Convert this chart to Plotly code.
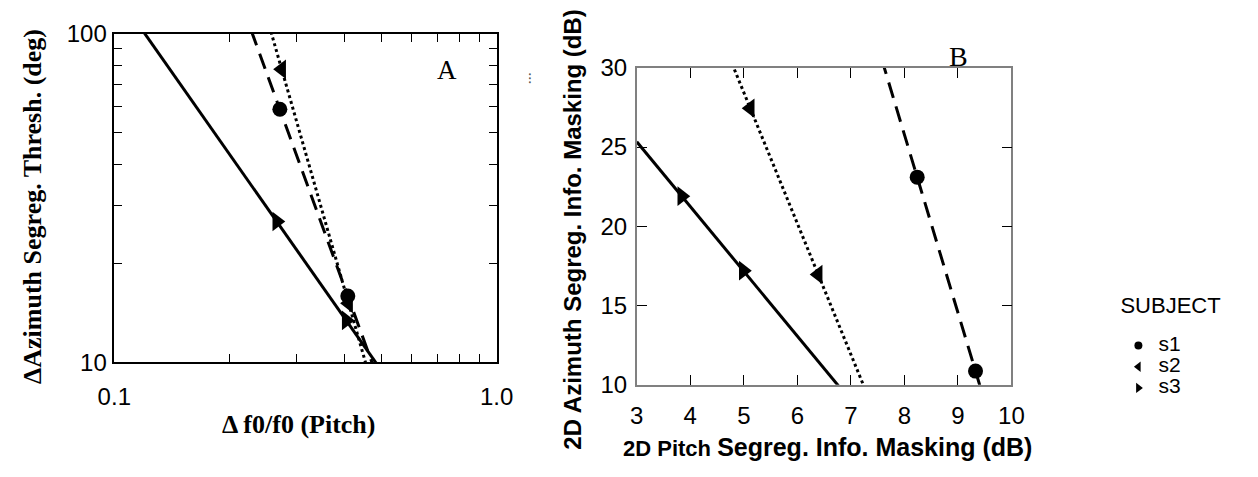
import numpy as np
import plotly.graph_objects as go

# ---------------- data ----------------
subjects = ["s1", "s2", "s3"]

# Panel A: pitch threshold (delta f0/f0) vs azimuth segregation threshold (deg)
a_s1_x = [0.271, 0.408]
a_s1_y = [58.9, 15.9]
a_s2_x = [0.274, 0.410]
a_s2_y = [78.0, 15.1]
a_s3_x = [0.266, 0.404]
a_s3_y = [26.8, 13.4]

# Panel B: 2D pitch segregation info. masking vs 2D azimuth segregation info. masking (dB)
b_s1_x = [8.24, 9.33]
b_s1_y = [23.1, 10.86]
b_s2_x = [5.12, 6.39]
b_s2_y = [27.45, 16.96]
b_s3_x = [3.84, 4.99]
b_s3_y = [21.9, 17.2]

a_xtick_vals = [0.1, 1.0]
a_xtick_text = ["0.1", "1.0"]
a_xminor = [0.2, 0.3, 0.4, 0.5, 0.6, 0.7, 0.8, 0.9]
a_ytick_vals = [10, 100]
a_yminor = [20, 30, 40, 50, 60, 70, 80, 90]

b_xtick_vals = [3, 4, 5, 6, 7, 8, 9, 10]
b_ytick_vals = [10, 15, 20, 25, 30]

# ---------------- styling ----------------
W, H = 1258, 477
SERIF = "Liberation Serif"
SANS = "Liberation Sans"

def px(x):
    return x / W

def py(y):
    return 1 - y / H

symbols = {"s1": "circle", "s2": "triangle-left", "s3": "triangle-right"}
dashes = {"s1": "16px,9px", "s2": "dot", "s3": "solid"}
msize = {"s1": 15, "s2": 17, "s3": 17}

A = {"s1": (a_s1_x, a_s1_y), "s2": (a_s2_x, a_s2_y), "s3": (a_s3_x, a_s3_y)}
B = {"s1": (b_s1_x, b_s1_y), "s2": (b_s2_x, b_s2_y), "s3": (b_s3_x, b_s3_y)}

A_XR = [0.1, 1.0]
B_XR = [3, 10]

fig = go.Figure()

for s in subjects:
    # Panel A: straight line in log-log fitted through the subject's points
    x, y = A[s]
    k, c = np.polyfit(np.log10(x), np.log10(y), 1)
    lx = np.array(A_XR)
    ly = 10 ** (k * np.log10(lx) + c)
    fig.add_trace(go.Scatter(x=lx, y=ly, mode="lines", xaxis="x", yaxis="y",
                             line=dict(color="black", width=3, dash=dashes[s]),
                             showlegend=False, hoverinfo="skip"))
    fig.add_trace(go.Scatter(x=x, y=y, mode="markers", xaxis="x", yaxis="y",
                             marker=dict(symbol=symbols[s], size=msize[s], color="black"),
                             showlegend=False, name=s))
    # Panel B: linear fit
    x, y = B[s]
    k, c = np.polyfit(x, y, 1)
    lx = np.array(B_XR, dtype=float)
    ly = k * lx + c
    fig.add_trace(go.Scatter(x=lx, y=ly, mode="lines", xaxis="x2", yaxis="y2",
                             line=dict(color="black", width=3, dash=dashes[s]),
                             showlegend=False, hoverinfo="skip"))
    fig.add_trace(go.Scatter(x=x, y=y, mode="markers", xaxis="x2", yaxis="y2",
                             marker=dict(symbol=symbols[s], size=msize[s], color="black"),
                             showlegend=False, name=s))

# legend-only entries
for s in subjects:
    fig.add_trace(go.Scatter(x=[None], y=[None], mode="markers", xaxis="x2", yaxis="y2",
                             marker=dict(symbol=symbols[s], size=8 if s == "s1" else 9, color="black"),
                             name='<span style="font-size:21px">%s</span>' % s,
                             showlegend=True))

tickfontA = dict(family=SANS, size=24, color="black")
tickfontB = dict(family=SANS, size=24, color="black")

fig.update_layout(
    width=W, height=H,
    margin=dict(l=0, r=0, t=0, b=0),
    paper_bgcolor="white", plot_bgcolor="white",
    xaxis=dict(domain=[px(100), px(493)], anchor="y", type="log",
               range=[np.log10(A_XR[0]), np.log10(A_XR[1])],
               tickvals=a_xtick_vals, ticktext=a_xtick_text,
               ticks="inside", ticklen=8, tickwidth=1.2, tickcolor="black",
               showline=True, linecolor="black", linewidth=1.5, mirror="ticks",
               showgrid=False, zeroline=False, tickfont=tickfontA,
               ticklabelstandoff=12,
               minor=dict(tickvals=a_xminor, ticks="inside", ticklen=8,
                          tickwidth=1.2, tickcolor="black", showgrid=False)),
    yaxis=dict(domain=[py(369), py(21)], anchor="x", type="log",
               range=[1, 2], tickvals=a_ytick_vals,
               ticktext=["10", "100"],
               ticks="inside", ticklen=8, tickwidth=1.2, tickcolor="black",
               showline=True, linecolor="black", linewidth=1.5, mirror="ticks",
               showgrid=False, zeroline=False, tickfont=tickfontA,
               ticklabelstandoff=1,
               minor=dict(tickvals=a_yminor, ticks="inside", ticklen=8,
                          tickwidth=1.2, tickcolor="black", showgrid=False)),
    xaxis2=dict(domain=[px(637), px(1022)], anchor="y2",
                range=B_XR, tickvals=b_xtick_vals,
                ticks="inside", ticklen=10, tickwidth=1.2, tickcolor="black",
                showline=True, linecolor="#808080", linewidth=1.5, mirror="ticks",
                showgrid=False, zeroline=False, tickfont=tickfontB,
                ticklabelstandoff=9),
    yaxis2=dict(domain=[py(393), py(57)], anchor="x2",
                range=[10, 30], tickvals=b_ytick_vals,
                ticks="inside", ticklen=10, tickwidth=1.2, tickcolor="black",
                showline=True, linecolor="#808080", linewidth=1.5, mirror="ticks",
                showgrid=False, zeroline=False, tickfont=tickfontB,
                ticklabelstandoff=3),
    legend=dict(x=px(1132), y=py(299), xanchor="left", yanchor="top",
                bgcolor="rgba(0,0,0,0)", borderwidth=0,
                font=dict(family=SANS, size=14, color="black"),
                title=dict(text='<span style="font-size:22px">SUBJECT</span><br> ',
                           font=dict(family=SANS, size=13, color="black")),
                itemwidth=30, tracegroupgap=0),
)

ann = [
    dict(text="<b>ΔAzimuth Segreg. Thresh. (deg)</b>", x=px(16), y=py(204), textangle=-90,
         font=dict(family=SERIF, size=26, color="black")),
    dict(text="<b>Δ f0/f0 (Pitch)</b>", x=px(290), y=py(435),
         font=dict(family=SERIF, size=26, color="black")),
    dict(text="<b>2D Azimuth Segreg. Info. Masking (dB)</b>", x=px(570), y=py(229), textangle=-90,
         font=dict(family=SANS, size=24, color="black")),
    dict(text='<b><span style="font-size:22px">2D Pitch </span>Segreg. Info. Masking (dB)</b>',
         x=px(833), y=py(459), font=dict(family=SANS, size=25, color="black")),
    dict(text="A", x=px(442), y=py(59), font=dict(family=SERIF, size=27, color="black")),
    dict(text="B", x=px(968), y=py(45), font=dict(family=SERIF, size=28, color="black")),
    dict(text="⁝", x=px(527), y=py(68), font=dict(family=SANS, size=14, color="#555555")),
]
for a in ann:
    a.update(xref="paper", yref="paper", showarrow=False, xanchor="center", yanchor="middle")
fig.update_layout(annotations=ann)

fig.write_html("out.html")
